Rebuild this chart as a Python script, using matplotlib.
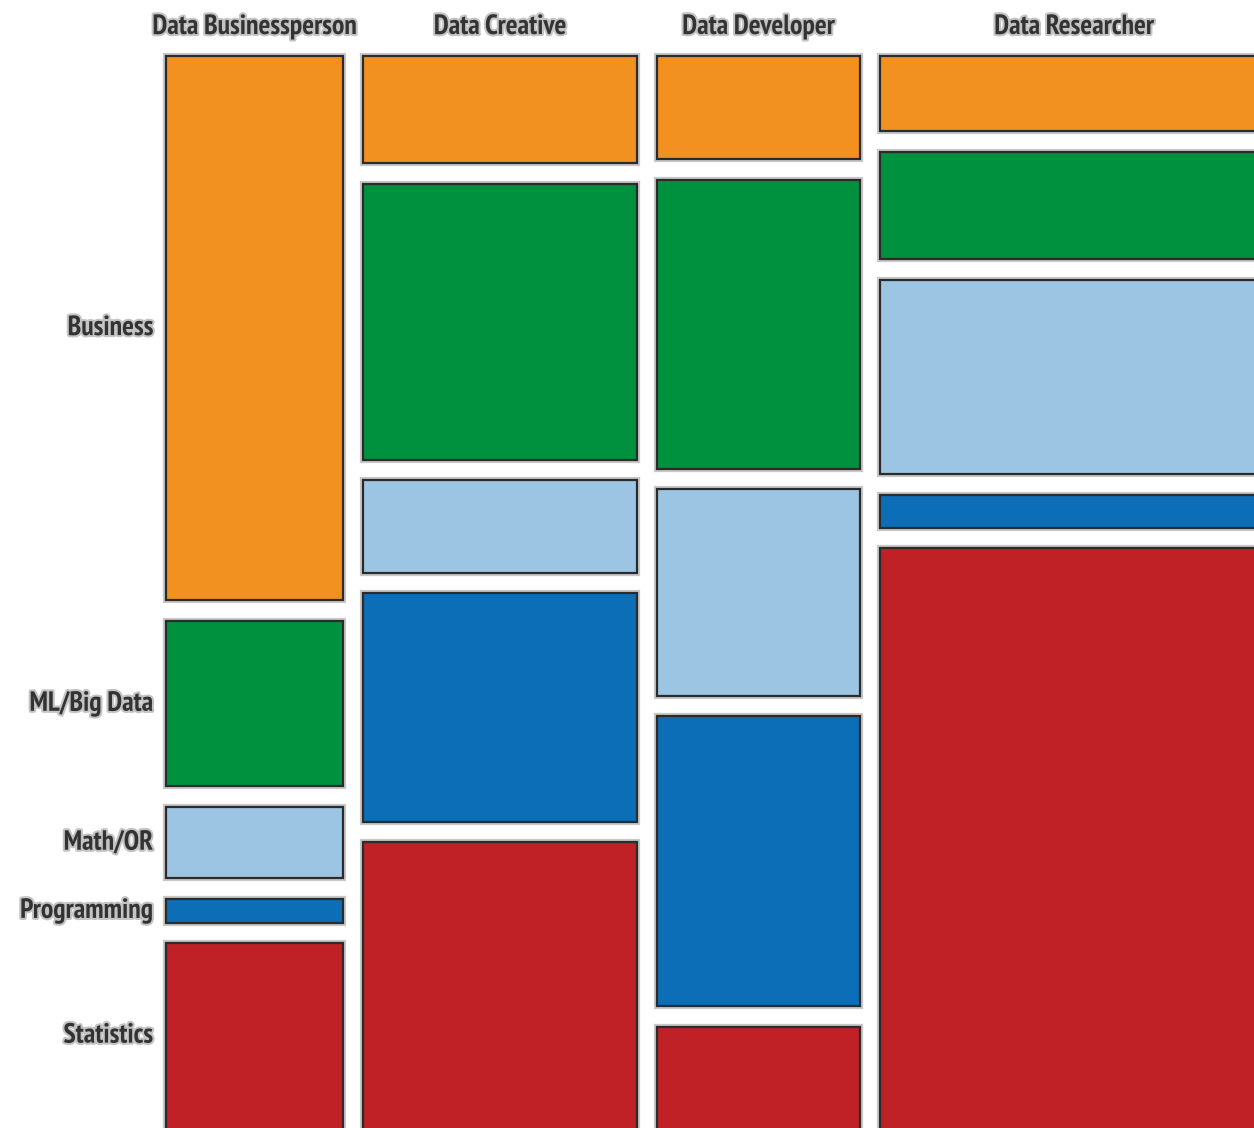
import numpy as np
import matplotlib.pyplot as plt
import matplotlib.patheffects as pe
from matplotlib.patches import Rectangle

# column categories (data scientist types) and their share of respondents (%)
roles = ['Data Businessperson', 'Data Creative', 'Data Developer', 'Data Researcher']
role_share = [17.0, 26.3, 19.5, 37.2]

# skill groups, top to bottom
skills = ['Business', 'ML/Big Data', 'Math/OR', 'Programming', 'Statistics']
skill_colors = ['#F39120', '#00913F', '#9BC5E3', '#0C6EB7', '#BF2127']

# share of each skill group within each role (%)
businessperson = [54.8, 16.7, 7.2, 2.4, 18.9]
creative = [10.8, 27.8, 9.3, 23.0, 29.1]
developer = [10.4, 29.1, 20.8, 29.2, 10.5]
researcher = [7.6, 10.8, 19.6, 3.3, 58.7]
table = np.array([businessperson, creative, developer, researcher])

# layout (pixel-like axes coordinates)
left, right, top, bottom = 166, 1268, 56, 1131
xgap, ygap = 20, 20.5

fig = plt.figure(figsize=(12.54, 11.28), dpi=100)
ax = fig.add_axes([0, 0, 1, 1])
ax.set_xlim(0, 1254)
ax.set_ylim(1128, 0)
ax.axis('off')

font = ['PT Sans Narrow', 'DejaVu Sans']
txt_fx = [pe.withStroke(linewidth=3, foreground='#c4c4c4')]
box_fx = [pe.Stroke(linewidth=4.5, foreground='#c8c8c8'), pe.Normal()]

shares = np.array(role_share) / np.sum(role_share)
widths = shares * (right - left - xgap * (len(roles) - 1))
avail_h = bottom - top - ygap * (len(skills) - 1)

x = left
for i, role in enumerate(roles):
    w = widths[i]
    fr = table[i] / table[i].sum()
    y = top
    for j, skill in enumerate(skills):
        h = fr[j] * avail_h
        r = Rectangle((x, y), w, h, facecolor=skill_colors[j], edgecolor='#2b2b2b',
                      linewidth=1.6, zorder=2)
        r.set_path_effects(box_fx)
        ax.add_patch(r)
        if i == 0:
            yc = y + h / 2
            if j == len(skills) - 1:
                yc = (y + 1128) / 2
            ax.text(153, yc, skill, ha='right', va='center', family=font,
                    fontweight='bold', fontsize=20, color='#333333',
                    path_effects=txt_fx)
        y += h + ygap
    ax.text(x + w / 2, 27, role, ha='center', va='center', family=font,
            fontweight='bold', fontsize=20, color='#333333', path_effects=txt_fx)
    x += w + xgap

fig.savefig('out.png', dpi=100)
